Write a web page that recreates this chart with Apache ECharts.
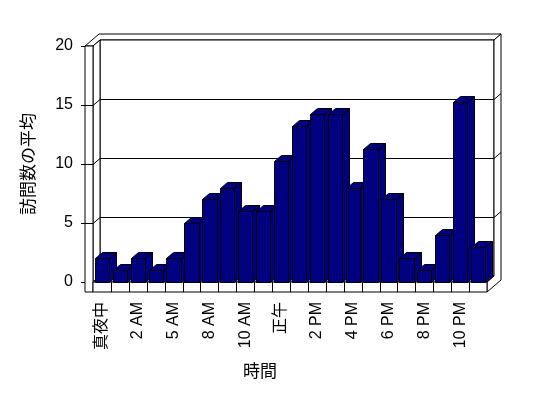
<!DOCTYPE html>
<html>
<head>
<meta charset="utf-8">
<script src="https://cdn.jsdelivr.net/npm/echarts@6/dist/echarts.min.js"></script>
<style>
  html, body { margin: 0; padding: 0; background: #fff; }
  #chart { width: 548px; height: 398px; }
</style>
</head>
<body>
<div id="chart"></div>
<script>
// 時間ごとのカテゴリ（3時・6時はデータなし）
var categories = ['真夜中', '1 AM', '2 AM', '4 AM', '5 AM', '7 AM', '8 AM', '9 AM', '10 AM', '11 AM',
  '正午', '1 PM', '2 PM', '3 PM', '4 PM', '5 PM', '6 PM', '7 PM', '8 PM', '9 PM', '10 PM', '11 PM'];
var visits = [2, 1, 2, 1, 2, 5, 7, 8, 6, 6, 10.25, 13.25, 14.25, 14.25, 8, 11.25, 7, 2, 1, 4, 15.25, 3];
var yTicks = [0, 5, 10, 15, 20];

var FONT = "'Liberation Sans', 'Noto Sans CJK JP', sans-serif";
var DX = 7, DY = -6;      // 奥行き
var WALL = 8, FLOOR = 10; // 壁・床の厚み
var BAR = 0.8;

var line = function (x1, y1, x2, y2) {
  return { type: 'line', shape: { x1: x1, y1: y1, x2: x2, y2: y2 }, style: { stroke: '#000', lineWidth: 1 } };
};
var poly = function (pts, fill) {
  return { type: 'polygon', shape: { points: pts }, style: { fill: fill, stroke: '#000', lineWidth: 1 } };
};

function renderFrame(params, api) {
  var cs = params.coordSys;
  var L = cs.x, R = cs.x + cs.width, T = cs.y, B = cs.y + cs.height;
  var n = categories.length, cw = (R - L) / n;
  var kids = [];
  // 上面
  kids.push(poly([[L - WALL, T], [L - WALL + 2 * DX, T + 2 * DY], [R + 2 * DX, T + 2 * DY], [R + DX, T + DY], [L + DX, T + DY], [L, T]], '#fff'));
  // 背面
  kids.push({ type: 'rect', shape: { x: L + DX, y: T + DY, width: R - L, height: B - T }, style: { fill: '#fff', stroke: '#000', lineWidth: 1 } });
  // 右側の厚み
  kids.push(poly([[R + DX, T + DY], [R + 2 * DX, T + 2 * DY], [R + 2 * DX, B + FLOOR + 2 * DY], [R, B + FLOOR], [R, B], [R + DX, B + DY]], '#fff'));
  // 左壁
  kids.push(poly([[L, B], [L + DX, B + DY], [L + DX, T + DY], [L, T]], '#fff'));
  kids.push({ type: 'rect', shape: { x: L - WALL, y: T, width: WALL, height: B + FLOOR - T }, style: { fill: '#fff', stroke: '#000', lineWidth: 1 } });
  // 床
  kids.push(poly([[L, B], [R, B], [R + DX, B + DY], [L + DX, B + DY]], '#fff'));
  kids.push({ type: 'rect', shape: { x: L, y: B, width: R - L, height: FLOOR }, style: { fill: '#fff', stroke: '#000', lineWidth: 1 } });
  for (var i = 1; i < n; i++) {
    var x = Math.round(L + i * cw) + 0.5;
    kids.push(line(x, B, x, B + FLOOR));
  }
  // 目盛線
  yTicks.forEach(function (v) {
    var y = Math.round(api.coord([0, v])[1]) + 0.5;
    kids.push(line(L - WALL - 4, y, L - WALL, y));
    if (v > 0 && v < 20) {
      kids.push(line(L - WALL, y, L, y));
      kids.push(line(L, y, L + DX, y + DY));
      kids.push(line(L + DX, y + DY, R + DX, y + DY));
      kids.push(line(R + DX, y + DY, R + 2 * DX, y + 2 * DY));
    }
  });
  return { type: 'group', children: kids };
}

function renderBar(params, api) {
  var i = api.value(0), v = api.value(1);
  var p0 = api.coord([i, 0]), p1 = api.coord([i, v]);
  var w = api.size([1, 0])[0] * BAR;
  var x0 = Math.round(p0[0] - w / 2) + 0.5, x1 = Math.round(p0[0] + w / 2) + 0.5;
  var yb = Math.round(p0[1]) + 0.5, yt = Math.round(p1[1]) + 0.5;
  var c = '#000080';
  return {
    type: 'group',
    children: [
      poly([[x1, yt], [x1 + DX, yt + DY], [x1 + DX, yb + DY], [x1, yb]], c),
      poly([[x0, yt], [x1, yt], [x1 + DX, yt + DY], [x0 + DX, yt + DY]], c),
      { type: 'rect', shape: { x: x0, y: yt, width: x1 - x0, height: yb - yt }, style: { fill: c, stroke: '#000', lineWidth: 1 } }
    ]
  };
}

var chart = echarts.init(document.getElementById('chart'));
chart.setOption({
  animation: false,
  backgroundColor: '#fff',
  grid: { left: 93, right: 61, top: 46, bottom: 116 },
  xAxis: {
    type: 'category',
    data: categories,
    axisLine: { show: false },
    axisTick: { show: false },
    axisLabel: { interval: 1, rotate: 90, margin: 20, fontSize: 16, color: '#000', fontFamily: FONT }
  },
  yAxis: {
    type: 'value',
    min: 0, max: 20, interval: 5,
    name: '訪問数の平均',
    nameLocation: 'middle',
    nameGap: 55,
    nameTextStyle: { fontSize: 17, color: '#000', fontFamily: FONT },
    axisLine: { show: false },
    axisTick: { show: false },
    splitLine: { show: false },
    axisLabel: { margin: 20, fontSize: 16, color: '#000', fontFamily: FONT }
  },
  graphic: [{
    type: 'text', left: 243, top: 364,
    style: { text: '時間', fontSize: 17, fill: '#000', fontFamily: FONT }
  }],
  series: [
    { type: 'custom', z: 1, data: [[0, 0]], renderItem: renderFrame, silent: true },
    {
      type: 'custom', z: 2,
      data: visits.map(function (v, i) { return [i, v]; }),
      encode: { x: 0, y: 1 },
      renderItem: renderBar
    }
  ]
});
</script>
</body>
</html>
